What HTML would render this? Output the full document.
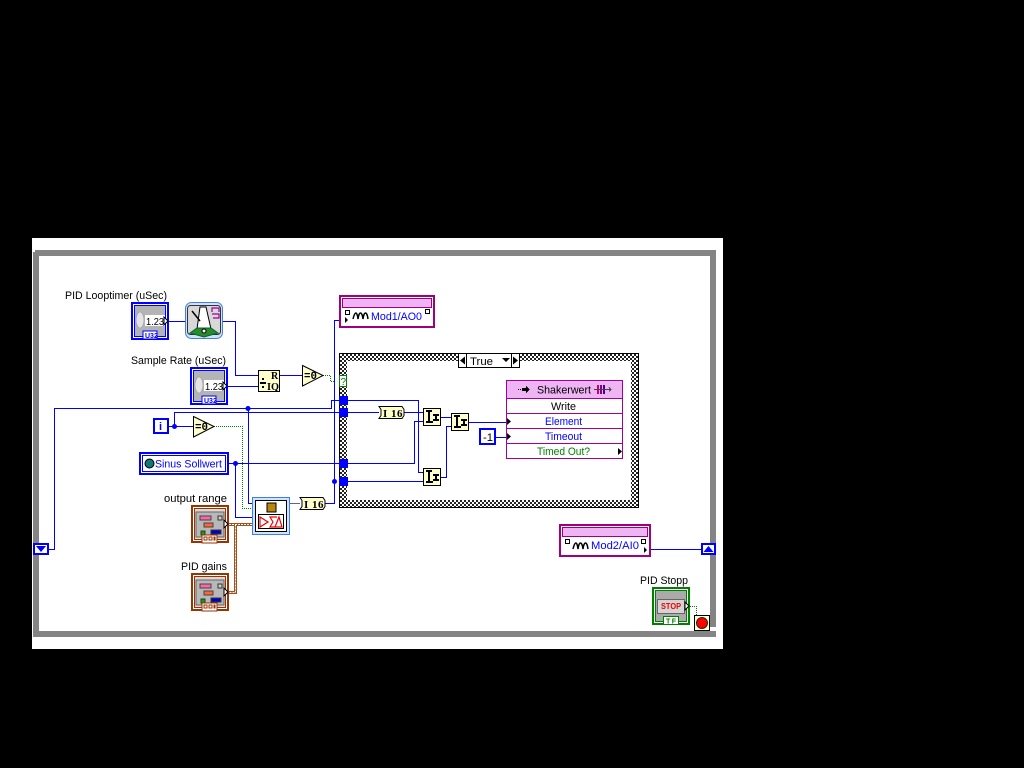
<!DOCTYPE html>
<html><head><meta charset="utf-8"><title>LabVIEW diagram</title>
<style>
html,body{margin:0;padding:0;background:#000;width:1024px;height:768px;overflow:hidden}
svg{display:block}
text{font-family:"Liberation Sans",sans-serif;font-size:11px}
.s{shape-rendering:crispEdges}
.w{fill:none;stroke:#00f;stroke-width:1}
.b{fill:#00f}
.m{font:bold 11px "Liberation Mono",monospace}
.r{font:bold 10px "Liberation Serif",serif}
</style></head><body>
<svg width="1024" height="768" viewBox="0 0 1024 768" xmlns="http://www.w3.org/2000/svg">
<defs>
<pattern id="ck" width="4" height="4" patternUnits="userSpaceOnUse"><rect width="4" height="4" fill="#fff"/><rect width="2" height="2" fill="#222"/><rect x="2" y="2" width="2" height="2" fill="#222"/></pattern>
<g id="num" class="s">
<rect width="38" height="38" fill="#00f"/><rect x="2" y="2" width="34" height="34" fill="#fff"/><rect x="3" y="3" width="32" height="32" fill="#00f"/><rect x="4" y="4" width="30" height="30" fill="#b4b4b4"/>
<ellipse cx="9" cy="18" rx="4" ry="8" fill="#e4e4e4" stroke="#aaa"/>
<rect x="14" y="13" width="20" height="11" fill="#fff"/>
<polygon points="33,15 37,19 33,23" fill="#fff" stroke="#000"/>
<rect x="12" y="29" width="14" height="8" fill="#fff" stroke="#00f"/>
</g>
<g id="cl" class="s">
<rect width="38" height="38" fill="#993300"/><rect x="2" y="2" width="34" height="34" fill="#fff"/><rect x="3" y="3" width="32" height="32" fill="#993300"/><rect x="4" y="4" width="30" height="30" fill="#d8d8d8"/>
<rect x="5" y="7" width="28" height="25" fill="#b8b8b8" stroke="#666"/>
<rect x="9" y="11" width="11" height="4" fill="#ff66aa" stroke="#444"/><rect x="27" y="11" width="4" height="4" fill="#ccc" stroke="#333"/>
<rect x="13" y="18" width="9" height="4" fill="#ff6633" stroke="#444"/><rect x="20" y="25" width="10" height="4" fill="#0000cc" stroke="#333"/><rect x="10" y="26" width="4" height="4" fill="#00aa00" stroke="#333"/>
<rect x="11" y="30" width="15" height="8" fill="#fff" stroke="#993300"/>
<path d="M13 32h3v3h-3zM18 32h3v3h-3zM23 32h1v3h-1z" fill="none" stroke="#993300"/>
<polygon points="33,15 37,19 33,23" fill="#fff" stroke="#000"/>
</g>
<g id="merge" class="s">
<rect x=".5" y=".5" width="17" height="17" fill="#ffffcc" stroke="#000"/>
<rect x="3" y="2" width="6" height="2" fill="#000"/><rect x="5" y="2" width="2" height="12" fill="#000"/><rect x="3" y="13" width="7" height="2" fill="#000"/>
<rect x="10" y="6" width="6" height="2" fill="#000"/><rect x="12" y="6" width="2" height="7" fill="#000"/><rect x="10" y="11" width="6" height="2" fill="#000"/>
</g>
<g id="i16">
<polygon points="0,0 23,0 25,3 25,9 23,12 0,12 2,9 2,3" fill="#ffffcc" stroke="#000"/>
</g>
<g id="eq0">
<polygon points="0.5,0.5 21,10.500 0.5,21" fill="#ffffcc" stroke="#000"/>
</g>
</defs>

<rect width="1024" height="768" fill="#000"/>
<rect class="s" x="32" y="238" width="691" height="411" fill="#fff"/>
<!-- while loop frame -->
<path class="s" d="M36 253H713V634H36Z" fill="none" stroke="#848484" stroke-width="6"/>
<rect class="s" x="33" y="250" width="2" height="2" fill="#fff"/>

<!-- case structure -->
<rect class="s" x="339" y="353" width="300" height="155" fill="#000"/>
<rect class="s" x="340" y="354" width="298" height="153" fill="url(#ck)"/>
<rect class="s" x="347" y="361" width="284" height="139" fill="#fff"/>

<!-- wires -->
<g class="s">
<path class="w" d="M169 321.500H185M223 321.500H235.500V375.500H258M228 386.500H258M280 375.500H302"/>
<path class="w" d="M49 549.500H54.500V408.500H331.500V400.500H339"/>
<path class="w" d="M248.500 408.500V503.500H252"/>
<path class="w" d="M169 426.500H193M174.500 426.500V412.500H339"/>
<path class="w" d="M229 463.500H339M235.500 463.500V517.500H252"/>
<path class="w" d="M339 320.500H334.500V503.500H325"/>
<path d="M290 503.500H300" stroke="#6060b0" fill="none"/>
<path class="w" d="M347 400.500H418.500V472.500H423M347 412.500H379M404 412.500H423M347 463.500H414.500V421.500H423M347 481.500H423"/>
<path class="w" d="M441 417.500H451M441 477.500H446.500V426.500H451M469 422.500H506M496 437.500H506"/>
<path class="w" d="M651 549.500H701"/>
<path d="M214 426.500H242.500V508.500H252" fill="none" stroke="#008000" stroke-dasharray="1 1"/>
<path d="M323 375.500H330.500V381.500H334" fill="none" stroke="#008000" stroke-dasharray="1 1"/>
<path d="M686 606.500H696.500V615" fill="none" stroke="#008000" stroke-dasharray="1 1"/>
<!-- cluster wires -->
<path d="M229 524.500H252M235.500 524.500V592.500H229" fill="none" stroke="#a5501a" stroke-width="3"/>
<path d="M229 524.500H252M235.500 524.500V592.500H229" fill="none" stroke="#fff" stroke-width="1" stroke-dasharray="2 1"/>
</g>
<circle cx="248" cy="408.500" r="2.500" class="b"/><circle cx="174.500" cy="426.500" r="2.500" class="b"/><circle cx="235.500" cy="463.500" r="2.500" class="b"/><circle cx="334.500" cy="481.500" r="2.500" class="b"/>

<!-- tunnels -->
<g class="s b">
<rect x="339" y="396" width="9" height="9"/><rect x="339" y="408" width="9" height="9"/><rect x="339" y="459" width="9" height="9"/><rect x="339" y="477" width="9" height="9"/>
</g>
<rect class="s" x="339.500" y="375.500" width="7" height="11" fill="#fff" stroke="#008000"/>
<text x="340.500" y="385" fill="#008000" style="font-size:10px">?</text>

<!-- selector -->
<g class="s"><rect x="458.500" y="353.500" width="61" height="14" fill="#fff" stroke="#000"/><path d="M466.500 354V367M511.500 354V367" stroke="#000"/></g>
<polygon points="460,360.500 465,356.500 465,364.500" fill="#000"/><polygon points="518,360.500 513,356.500 513,364.500" fill="#000"/><polygon points="502,358 510,358 506,362" fill="#000"/>
<text x="470" y="365" textLength="23" lengthAdjust="spacingAndGlyphs">True</text>

<!-- terminals -->
<use href="#num" x="131" y="302"/>
<text x="146" y="325" textLength="18" lengthAdjust="spacingAndGlyphs" style="font-size:10px">1.23</text>
<text x="145" y="338" fill="#00f" style="font-size:7px;font-weight:bold">U32</text>
<use href="#num" x="190" y="367"/>
<text x="205" y="390" textLength="18" lengthAdjust="spacingAndGlyphs" style="font-size:10px">1.23</text>
<text x="204" y="403" fill="#00f" style="font-size:7px;font-weight:bold">U32</text>
<text x="65" y="299" textLength="102" lengthAdjust="spacingAndGlyphs">PID Looptimer (uSec)</text>
<text x="131" y="364" textLength="95" lengthAdjust="spacingAndGlyphs">Sample Rate (uSec)</text>

<!-- timer icon -->
<rect x="185.500" y="302.500" width="37" height="36" rx="6" fill="#cfe2fa" stroke="#4080e0"/>
<rect x="187.500" y="305.500" width="33" height="29" rx="3" fill="#d8d8d8" stroke="#333"/>
<polygon points="200,307 206,307 211,329 197,329" fill="#fff" stroke="#000"/>
<path d="M192 311L200 321" stroke="#000" stroke-width="1.500"/>
<path d="M190 333L197 328H211L218 333L204 337Z" fill="#2a8a2a" stroke="#063"/>
<circle cx="204" cy="331" r="2" fill="#fff" stroke="#000"/>
<path d="M212 312V308H219V312M212 314H219V318H213" fill="none" stroke="#a000a0" stroke-width="1.200"/>

<!-- quotient -->
<g class="s"><rect x="258.500" y="370.500" width="21" height="21" fill="#ffffcc" stroke="#000"/>
<rect x="260" y="382" width="6" height="2" fill="#000"/><rect x="262" y="378" width="2" height="2" fill="#000"/><rect x="262" y="386" width="2" height="2" fill="#000"/></g>
<text class="r" x="271" y="379">R</text>
<text class="r" x="267" y="390" textLength="12" lengthAdjust="spacingAndGlyphs">IQ</text>
<use href="#eq0" x="302" y="365"/>
<text class="m" x="304" y="379" textLength="13" lengthAdjust="spacingAndGlyphs">=0</text>
<use href="#eq0" x="193" y="416"/>
<text class="m" x="195" y="430" textLength="13" lengthAdjust="spacingAndGlyphs">=0</text>

<!-- i -->
<g class="s"><rect x="154" y="419" width="14" height="14" fill="#fff" stroke="#00f" stroke-width="2"/></g>
<text x="159" y="430" fill="#00f" style="font-weight:bold">i</text>

<!-- Sinus Sollwert -->
<g class="s"><rect x="140" y="453" width="88" height="21" fill="#fff" stroke="#00f" stroke-width="2"/><rect x="142.500" y="455.500" width="83" height="16" fill="#fff" stroke="#00f"/></g>
<circle cx="149.500" cy="463.500" r="4.500" fill="#177" stroke="#000"/>
<text x="155" y="467.500" fill="#00f" textLength="67" lengthAdjust="spacingAndGlyphs">Sinus Sollwert</text>

<!-- clusters -->
<text x="164" y="502" textLength="63" lengthAdjust="spacingAndGlyphs">output range</text>
<use href="#cl" x="191" y="505"/>
<text x="181" y="570" textLength="46" lengthAdjust="spacingAndGlyphs">PID gains</text>
<use href="#cl" x="191" y="573"/>

<!-- SubVI -->
<g class="s"><rect x="252.500" y="497.500" width="37" height="37" fill="#cfe4ff" stroke="#3d7df0"/><rect x="255.500" y="500.500" width="31" height="31" fill="#fff" stroke="#000"/>
<rect x="267" y="503" width="9" height="9" fill="#b8860b" stroke="#000"/><rect x="258.500" y="514.500" width="25" height="14" fill="#fff" stroke="#000"/></g>
<path d="M260 517L268 522L260 527ZM277 517H270L273 522L270 527H277M282 527L279 517L275 527Z" fill="none" stroke="#e00" stroke-width="1.200"/>

<!-- I16 -->
<use href="#i16" x="300" y="497.500"/>
<text class="r" x="304" y="508" style="font-size:11px;letter-spacing:.5px">I 16</text>
<use href="#i16" x="379" y="406.500"/>
<text class="r" x="383" y="417" style="font-size:11px;letter-spacing:.5px">I 16</text>

<!-- merges -->
<use href="#merge" x="423" y="408"/><use href="#merge" x="423" y="468"/><use href="#merge" x="451" y="413"/>

<!-- -1 -->
<rect class="s" x="480" y="429" width="15" height="15" fill="#fff" stroke="#00f" stroke-width="2"/>
<text x="483" y="441" textLength="10" lengthAdjust="spacingAndGlyphs">-1</text>

<!-- Shakerwert -->
<g class="s">
<rect x="506.500" y="380.500" width="116" height="78" fill="#fff" stroke="#a000a0"/>
<rect x="507" y="381" width="115" height="17" fill="#eeb4f4"/>
<path d="M507 398.500H622M507 413.500H622M507 428.500H622M507 443.500H622" stroke="#a000a0"/>
<path d="M518 389h1v1h-1zM520 389h1v1h-1zM522 388h4v-2l4 3.500-4 3.500v-2h-4z" fill="#000"/>
<rect x="597" y="385" width="2" height="9" fill="#cc0066"/><rect x="600" y="385" width="2" height="9" fill="#770099"/><rect x="603" y="385" width="2" height="9" fill="#440099"/>
<path d="M594 389.500H611M609 387.500L611 389.500L609 391.500" stroke="#444" fill="none"/>
</g>
<text x="537" y="393.500" textLength="54" lengthAdjust="spacingAndGlyphs">Shakerwert</text>
<text x="551" y="410" textLength="25" lengthAdjust="spacingAndGlyphs">Write</text>
<text x="545" y="425" fill="#00f" textLength="37" lengthAdjust="spacingAndGlyphs">Element</text>
<text x="545" y="440" fill="#00f" textLength="37" lengthAdjust="spacingAndGlyphs">Timeout</text>
<text x="537" y="455" fill="#008000" textLength="53" lengthAdjust="spacingAndGlyphs">Timed Out?</text>
<polygon points="507,418 511,421.500 507,425" fill="#000"/><polygon points="507,433 511,436.500 507,440" fill="#000"/><polygon points="618,448 622,451.500 618,455" fill="#000"/>

<!-- Mod1 -->
<g class="s"><rect x="340" y="296" width="94" height="31" fill="#fff" stroke="#a00080" stroke-width="2"/><rect x="342.500" y="298.500" width="89" height="9" fill="#eeb4f4" stroke="#a00080"/></g>
<path d="M353 319c2-8 4-8 5 0c1-8 4-8 5 0c1-8 4-8 5 0" fill="none" stroke="#000" stroke-width="1.500"/>
<text x="371" y="320" fill="#00f" textLength="51" lengthAdjust="spacingAndGlyphs">Mod1/AO0</text>
<path class="s" d="M345.500 310.500h4v4h-4zM425.500 309.500h4v4h-4z" fill="#fff" stroke="#000"/>
<polygon points="345,317 348,320 345,323" fill="#000"/>

<!-- Mod2 -->
<g class="s"><rect x="560" y="525" width="90" height="31" fill="#fff" stroke="#a00080" stroke-width="2"/><rect x="562.500" y="527.500" width="85" height="9" fill="#eeb4f4" stroke="#a00080"/></g>
<path d="M573 549c2-8 4-8 5 0c1-8 4-8 5 0c1-8 4-8 5 0" fill="none" stroke="#000" stroke-width="1.500"/>
<text x="591" y="549" fill="#00f" textLength="48" lengthAdjust="spacingAndGlyphs">Mod2/AI0</text>
<path class="s" d="M565.500 539.500h4v4h-4zM641.500 539.500h4v4h-4z" fill="#fff" stroke="#000"/>
<polygon points="644,547 647,550 644,553" fill="#000"/>

<!-- shift registers -->
<g class="s"><rect x="34" y="544" width="14" height="10" fill="#fff" stroke="#00f" stroke-width="2"/><rect x="702" y="544" width="13" height="10" fill="#fff" stroke="#00f" stroke-width="2"/></g>
<polygon points="36,546 46,546 41,552" fill="#00f"/><polygon points="703.500,552 713.500,552 708.500,546" fill="#00f"/>

<!-- Stop -->
<text x="640" y="584" textLength="48" lengthAdjust="spacingAndGlyphs">PID Stopp</text>
<g class="s"><rect x="653" y="588" width="36" height="36" fill="#fff" stroke="#008000" stroke-width="2"/><rect x="655.500" y="590.500" width="31" height="31" fill="#aaa" stroke="#008000"/>
<rect x="657.500" y="599.500" width="27" height="14" fill="#d4d4d4" stroke="#666"/>
<rect x="663.500" y="616.500" width="15" height="8" fill="#fff" stroke="#008000"/></g>
<text x="661" y="609" fill="#e00" textLength="20" lengthAdjust="spacingAndGlyphs" style="font-size:8px;font-weight:bold">STOP</text>
<text x="666" y="623.500" fill="#008000" textLength="10" style="font-size:7px;font-weight:bold">TF</text>
<polygon points="685,602 689,606 685,610" fill="#fff" stroke="#000"/>
<rect class="s" x="710" y="627" width="6" height="4" fill="#fff"/>
<rect class="s" x="694.500" y="615.500" width="15" height="15" fill="#ffffcc" stroke="#000"/>
<circle cx="702" cy="623" r="5.500" fill="#f00" stroke="#222" stroke-width="1"/>
</svg>
</body></html>
